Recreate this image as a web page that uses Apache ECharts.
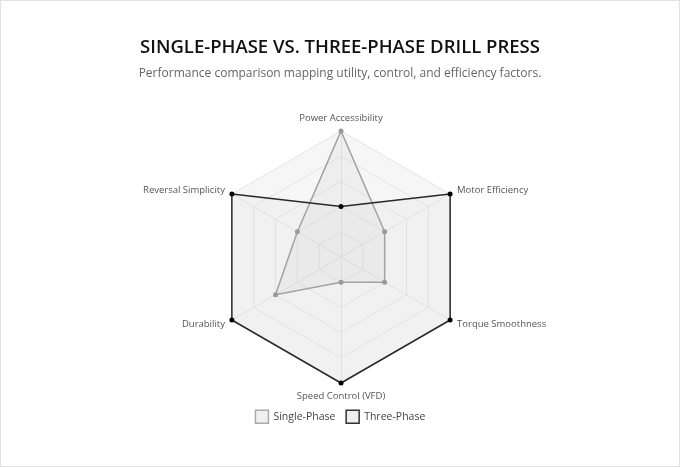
<!DOCTYPE html>
<html>
<head>
<meta charset="utf-8">
<script src="https://cdn.jsdelivr.net/npm/echarts@6/dist/echarts.min.js"></script>
<style>
  html, body { margin: 0; padding: 0; background: #fff; }
  #main { width: 680px; height: 467px; box-sizing: border-box; border: 1px solid #e2e2e2; }
</style>
</head>
<body>
<div id="main"></div>
<script>
// clockwise from the top
var indicators = ['Power Accessibility', 'Motor Efficiency', 'Torque Smoothness', 'Speed Control (VFD)', 'Durability', 'Reversal Simplicity'];
var maxScore = 10;
var singlePhase = [10, 4, 4, 2, 6, 4];
var threePhase = [4, 10, 10, 10, 10, 10];

// echarts lays radar axes out counter-clockwise, so flip the order after the first one
function cw(arr) {
    return [arr[0]].concat(arr.slice(1).reverse());
}

var myChart = echarts.init(document.getElementById('main'));

var option = {
    title: {
        text: 'SINGLE-PHASE VS. THREE-PHASE DRILL PRESS',
        subtext: 'Performance comparison mapping utility, control, and efficiency factors.',
        left: 'center',
        top: 32,
        itemGap: 11,
        textStyle: {
            fontFamily: 'Open Sans',
            fontSize: 18.5,
            fontWeight: 600,
            color: '#111'
        },
        subtextStyle: {
            fontFamily: 'Open Sans',
            fontSize: 12,
            color: '#666'
        }
    },
    legend: {
        bottom: 37,
        left: 'center',
        itemWidth: 13,
        itemHeight: 13,
        itemGap: 10,
        icon: 'rect',
        textStyle: { fontFamily: 'Open Sans', fontSize: 10.5, color: '#444' },
        data: [
            { name: 'Single-Phase', itemStyle: { color: '#f0f0f0', borderColor: '#aaa', borderWidth: 1.5 } },
            { name: 'Three-Phase', itemStyle: { color: '#eeeeee', borderColor: '#333', borderWidth: 1.5 } }
        ]
    },
    radar: {
        center: [340, 256],
        radius: 126,
        shape: 'polygon',
        splitNumber: 5,
        startAngle: 90,
        indicator: cw(indicators).map(function (n) { return { name: n, max: maxScore }; }),
        axisName: {
            color: '#555',
            fontFamily: 'Open Sans',
            fontSize: 9.5
        },
        nameGap: 8,
        splitLine: { lineStyle: { color: '#e4e4e4', width: 1 } },
        splitArea: { areaStyle: { color: ['#f6f6f6', '#f6f6f6', '#f6f6f6', '#f6f6f6', '#f6f6f6'] } },
        axisLine: { lineStyle: { color: '#e4e4e4' } }
    },
    series: [{
        type: 'radar',
        data: [
            {
                name: 'Single-Phase',
                value: cw(singlePhase),
                symbol: 'circle',
                symbolSize: 5,
                itemStyle: { color: '#999' },
                lineStyle: { color: '#a0a0a0', width: 1.5 },
                areaStyle: { color: 'rgba(160,160,160,0.12)' }
            },
            {
                name: 'Three-Phase',
                value: cw(threePhase),
                symbol: 'circle',
                symbolSize: 5,
                itemStyle: { color: '#000' },
                lineStyle: { color: '#222', width: 1.5 },
                areaStyle: { color: 'rgba(200,200,200,0.12)' }
            }
        ]
    }]
};

myChart.setOption(option, true);
</script>
</body>
</html>
